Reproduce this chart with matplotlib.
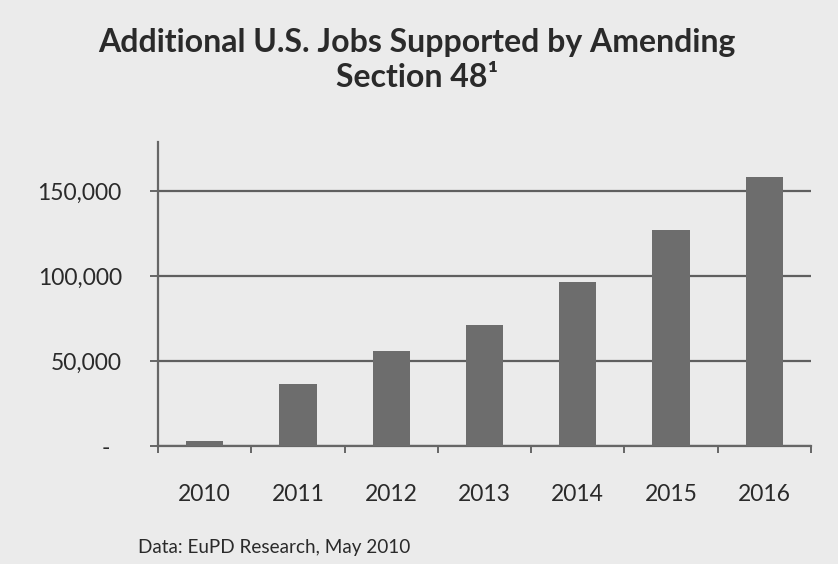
import matplotlib.pyplot as plt
from matplotlib.ticker import FuncFormatter

years = ["2010", "2011", "2012", "2013", "2014", "2015", "2016"]
jobs = [2800, 36500, 56000, 71200, 96600, 127000, 158400]
y_ticks = [0, 50000, 100000, 150000]

title = "Additional U.S. Jobs Supported by Amending\nSection 48\u00b9"
source = "Data: EuPD Research, May 2010"

plt.rcParams['font.family'] = ['Lato', 'DejaVu Sans']

bg = "#ebebeb"
fig = plt.figure(figsize=(8.38, 5.64), dpi=100, facecolor=bg)
ax = fig.add_axes([0.1885, 0.2092, 0.7793, 0.539])
ax.set_facecolor(bg)

x = range(len(years))
ax.bar(x, jobs, width=0.4, color="#6d6d6d", zorder=3)

ax.set_xlim(-0.5, len(years) - 0.5)
ax.set_ylim(0, 178800)
ax.set_yticks(y_ticks)

def fmt(v, pos):
    # accounting style: zero shown as a dash, set in a bit from the right
    if v == 0:
        return "-  "
    return "{:,.0f}".format(v)

ax.yaxis.set_major_formatter(FuncFormatter(fmt))
ax.yaxis.grid(True, color="#5f5f5f", linewidth=1.6, zorder=1)

# x ticks sit on the category boundaries, labels in the middle
ax.set_xticks([i - 0.5 for i in range(len(years) + 1)])
ax.set_xticklabels([])
ax.set_xticks(list(x), minor=True)
ax.set_xticklabels(years, minor=True, fontsize=16.5, color="#2a2a2a")
ax.tick_params(axis="x", which="major", length=5, width=1.4, color="#666666", direction="out")
ax.tick_params(axis="x", which="minor", length=0, pad=27)
ax.tick_params(axis="y", length=6, width=1.4, color="#666666", labelsize=16.5,
               labelcolor="#2a2a2a", pad=20)

for s in ["top", "right"]:
    ax.spines[s].set_visible(False)
for s in ["left", "bottom"]:
    ax.spines[s].set_color("#666666")
    ax.spines[s].set_linewidth(1.6)

fig.text(0.498, 0.893, title, ha="center", va="center", fontsize=23,
         fontweight="bold", color="#2a2a2a", linespacing=1.25)
fig.text(0.1647, 0.0195, source, ha="left", va="baseline", fontsize=13.6, color="#2a2a2a")

fig.savefig("out.png", dpi=100, facecolor=bg)
